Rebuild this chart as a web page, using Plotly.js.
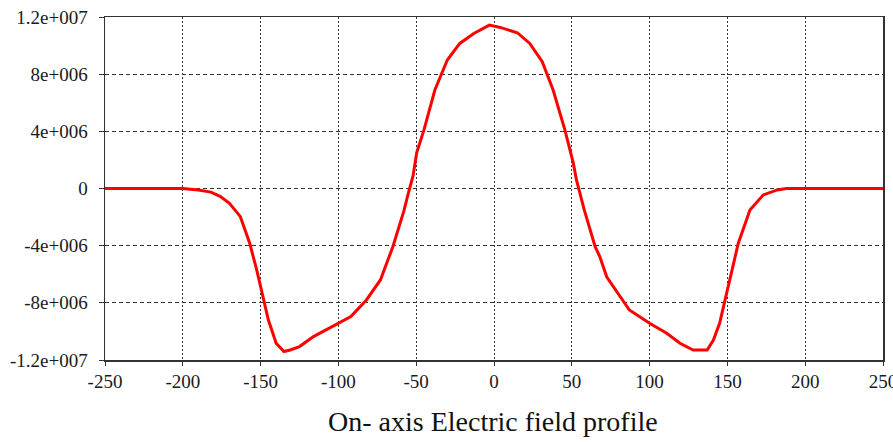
<!DOCTYPE html>
<html>
<head>
<meta charset="utf-8">
<script src="https://cdn.plot.ly/plotly-3.0.1.min.js"></script>
<style>html,body{margin:0;padding:0;background:#fff;}#chart{width:893px;height:442px;}</style>
</head>
<body>
<div id="chart"></div>
<script>
// Position along axis (mm)
const positions = [-250, -200, -190, -182, -176, -170, -163, -157, -152.5, -148, -145, -140, -135, -131, -125, -116, -100, -92, -82, -73, -65, -58, -55, -52, -49.7, -45, -38, -30, -22, -13, -3, 4, 15, 23, 31, 38, 45.6, 51, 53, 56.4, 58, 65, 68, 72.5, 81, 87, 100, 111, 119.5, 128, 137, 141, 145, 149.5, 154, 157, 164.5, 173, 182, 188, 200, 250];
// On-axis electric field (V/m)
const field = [0, 0, -0.1e6, -0.25e6, -0.55e6, -1.03e6, -1.97e6, -3.83e6, -5.7e6, -7.8e6, -9.2e6, -10.83e6, -11.41e6, -11.3e6, -11.06e6, -10.36e6, -9.43e6, -8.96e6, -7.8e6, -6.4e6, -4.07e6, -1.6e6, -0.3e6, 0.9e6, 2.5e6, 4.1e6, 6.89e6, 8.99e6, 10.15e6, 10.85e6, 11.43e6, 11.27e6, 10.9e6, 10.15e6, 8.87e6, 6.89e6, 4.09e6, 1.76e6, 0.6e6, -0.8e6, -1.5e6, -4.07e6, -4.77e6, -6.2e6, -7.6e6, -8.5e6, -9.43e6, -10.13e6, -10.83e6, -11.3e6, -11.3e6, -10.6e6, -9.43e6, -7.33e6, -5.23e6, -3.83e6, -1.5e6, -0.45e6, -0.1e6, 0, 0, 0];
// Axis ticks
const xTicks = [-250, -200, -150, -100, -50, 0, 50, 100, 150, 200, 250];
const yTickVals = [1.2e7, 8e6, 4e6, 0, -4e6, -8e6, -1.2e7];
const yTickText = ["1.2e+007", "8e+006", "4e+006", "0", "-4e+006", "-8e+006", "-1.2e+007"];
const captionText = "On- axis Electric field profile";

const serif = "Liberation Serif";

const trace = {
  x: positions,
  y: field,
  type: "scatter",
  mode: "lines",
  line: {color: "#ff0000", width: 3},
  hoverinfo: "skip"
};

const layout = {
  width: 893,
  height: 442,
  margin: {l: 105, r: 10, t: 17, b: 82},
  paper_bgcolor: "#ffffff",
  plot_bgcolor: "#ffffff",
  showlegend: false,
  font: {family: serif, size: 19, color: "#1a1a1a"},
  xaxis: {
    range: [-250, 250],
    tickmode: "array",
    tickvals: xTicks,
    ticktext: xTicks.map(String),
    ticklabeloverflow: "allow",
    showline: true,
    linecolor: "#333333",
    linewidth: 1.5,
    mirror: true,
    ticks: "outside",
    ticklen: 4,
    tickcolor: "#333333",
    showgrid: true,
    gridcolor: "#333333",
    gridwidth: 1,
    griddash: "2px,2px",
    zeroline: false,
    tickfont: {family: serif, size: 19, color: "#1a1a1a"}
  },
  yaxis: {
    range: [-1.2e7, 1.2e7],
    tickmode: "array",
    tickvals: yTickVals,
    ticktext: yTickText,
    ticklabelstandoff: 7,
    showline: true,
    linecolor: "#333333",
    linewidth: 1.5,
    mirror: true,
    ticks: "outside",
    ticklen: 5,
    tickcolor: "#333333",
    showgrid: true,
    gridcolor: "#333333",
    gridwidth: 1,
    griddash: "4px,3px",
    zeroline: false,
    tickfont: {family: serif, size: 19, color: "#1a1a1a"}
  },
  annotations: [{
    text: captionText,
    xref: "paper", yref: "paper",
    x: (493 - 105) / 778, y: -(422 - 360) / 343,
    xanchor: "center", yanchor: "middle",
    showarrow: false,
    font: {family: serif, size: 28, color: "#111111"}
  }]
};

Plotly.newPlot("chart", [trace], layout, {displayModeBar: false, staticPlot: true});
</script>
</body>
</html>
